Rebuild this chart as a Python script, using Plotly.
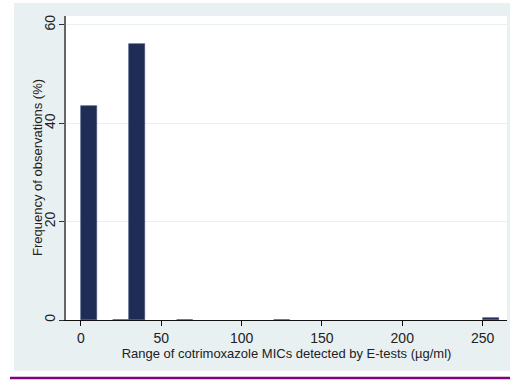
import plotly.graph_objects as go

# Histogram bins (left edges, width 10 µg/ml) and percentages
bin_left = [0, 20, 30, 60, 120, 250]
bin_width = 10
freq_pct = [43.5, 0.08, 56.2, 0.08, 0.08, 0.4]

x_ticks = [0, 50, 100, 150, 200, 250]
y_ticks = [0, 20, 40, 60]

W, H = 510, 383
L, R, T, B = 66, 3, 16, 63
pw, ph = W - L - R, H - T - B

def px(x):
    return (x - L) / pw

def py(y):
    return (H - B - y) / ph

fig = go.Figure()
fig.add_trace(go.Bar(
    x=[b + bin_width / 2 for b in bin_left],
    y=freq_pct,
    width=[bin_width] * len(bin_left),
    marker=dict(color="#1f2d56", line=dict(color="#3b4a72", width=0.6)),
    hoverinfo="x+y",
))

font = dict(family="Liberation Sans, Arial, sans-serif", size=13, color="#222222")

shapes = [
    dict(type="rect", xref="paper", yref="paper", x0=px(0), x1=px(14), y0=py(0), y1=py(H),
         fillcolor="white", line=dict(width=0), layer="below"),
    dict(type="rect", xref="paper", yref="paper", x0=px(0), x1=px(W), y0=py(0), y1=py(3),
         fillcolor="white", line=dict(width=0), layer="below"),
    dict(type="rect", xref="paper", yref="paper", x0=px(0), x1=px(W), y0=py(371), y1=py(H),
         fillcolor="white", line=dict(width=0), layer="below"),
    dict(type="line", xref="paper", yref="paper", x0=px(10), x1=px(W), y0=py(378), y1=py(378),
         line=dict(color="#800080", width=2.5)),
]

annotations = [
    dict(text="Frequency of observations (%)", xref="paper", yref="paper",
         x=px(37), y=py(168), textangle=-90, showarrow=False,
         xanchor="center", yanchor="middle", font=dict(size=13)),
]

fig.update_layout(
    width=W, height=H,
    margin=dict(l=L, r=R, t=T, b=B, pad=0),
    paper_bgcolor="#e8f0f2",
    plot_bgcolor="white",
    showlegend=False,
    bargap=0,
    font=font,
    shapes=shapes,
    annotations=annotations,
    xaxis=dict(
        range=[-9.3, 265.2],
        tickvals=x_ticks,
        ticks="outside", ticklen=5, tickcolor="#111111", tickwidth=1,
        showline=True, linecolor="#111111", linewidth=1,
        showgrid=False, zeroline=False,
        tickfont=dict(size=14),
        title=dict(text="Range of cotrimoxazole MICs detected by E-tests (µg/ml)",
                   font=dict(size=13), standoff=1),
    ),
    yaxis=dict(
        range=[0, 61.8],
        tickvals=y_ticks,
        tickangle=-90,
        ticks="outside", ticklen=5, tickcolor="#333333", tickwidth=1,
        showline=True, linecolor="#666666", linewidth=1.5,
        showgrid=True, gridcolor="#e8f0f2", gridwidth=1,
        zeroline=False,
        tickfont=dict(size=14),
        ticklabelstandoff=-1,
    ),
)

fig.write_html("out.html")
